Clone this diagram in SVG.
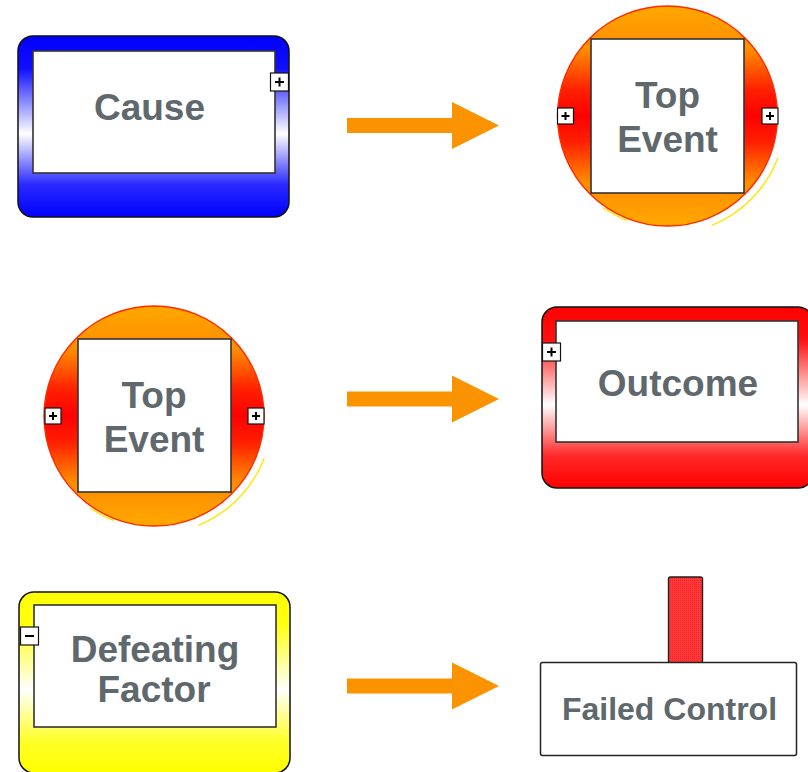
<svg xmlns="http://www.w3.org/2000/svg" width="808" height="772" viewBox="0 0 808 772">
  <defs>
    <linearGradient id="gBlue" x1="0" y1="0" x2="0" y2="1">
      <stop offset="0" stop-color="#0000ff"/>
      <stop offset="0.18" stop-color="#1010ff"/>
      <stop offset="0.54" stop-color="#ffffff"/>
      <stop offset="0.82" stop-color="#2a2aff"/>
      <stop offset="1" stop-color="#0000ff"/>
    </linearGradient>
    <linearGradient id="gRed" x1="0" y1="0" x2="0" y2="1">
      <stop offset="0" stop-color="#ff0000"/>
      <stop offset="0.18" stop-color="#ff1010"/>
      <stop offset="0.54" stop-color="#ffffff"/>
      <stop offset="0.82" stop-color="#ff2a2a"/>
      <stop offset="1" stop-color="#ff0000"/>
    </linearGradient>
    <linearGradient id="gYellow" x1="0" y1="0" x2="0" y2="1">
      <stop offset="0" stop-color="#ffff00"/>
      <stop offset="0.18" stop-color="#ffff10"/>
      <stop offset="0.54" stop-color="#ffffff"/>
      <stop offset="0.82" stop-color="#ffff2a"/>
      <stop offset="1" stop-color="#ffff00"/>
    </linearGradient>
    <linearGradient id="gEvent" x1="0" y1="0" x2="0" y2="1">
      <stop offset="0" stop-color="#ffa800"/>
      <stop offset="0.2" stop-color="#ff8c00"/>
      <stop offset="0.38" stop-color="#ff2000"/>
      <stop offset="0.5" stop-color="#ff0000"/>
      <stop offset="0.62" stop-color="#ff2000"/>
      <stop offset="0.8" stop-color="#ff8c00"/>
      <stop offset="1" stop-color="#ffa800"/>
    </linearGradient>
    <pattern id="pDots" width="2" height="2" patternUnits="userSpaceOnUse">
      <rect width="2" height="2" fill="#ff3a3a"/>
      <rect width="1" height="1" fill="#ff2020"/>
    </pattern>
    <polygon id="bigArrow" points="347,-7.5 452,-7.5 452,-23.5 499,0 452,23.5 452,7.5 347,7.5"/>
  </defs>
  <style>
    .outer { stroke: #111; stroke-width: 1.5; }
    .inner { fill: #ffffff; stroke: #333; stroke-width: 1.6; }
    .lbl { font-family: "Liberation Sans", Arial, sans-serif; font-weight: bold; fill: #5e686d; text-anchor: middle; }
    .btn { fill: #ffffff; stroke: #111; stroke-width: 1.2; }
    .sign { stroke: #000; stroke-width: 2; }
    .ring { fill: url(#gEvent); stroke: #ff2a00; stroke-width: 1.4; }
    .glow { fill: none; stroke: #ffe600; stroke-width: 1.4; }
    .arrow { fill: #fb9300; }
  </style>

  <!-- Cause -->
  <g id="cause">
    <rect class="outer" x="18" y="36" width="271" height="181" rx="15" fill="url(#gBlue)"/>
    <rect class="inner" x="33" y="51" width="242" height="122"/>
    <text class="lbl" x="149.5" y="120" font-size="37">Cause</text>
    <rect class="btn" x="270.5" y="73" width="18" height="18"/>
    <path class="sign" d="M275 82h9M279.5 77.5v9"/>
  </g>

  <!-- Top Event (top right) -->
  <g id="top-event-1" transform="translate(667.5 116)">
    <path class="glow" d="M110.2 42.3A118 118 0 0 1 44.2 109.4"/>
    <path class="glow" d="M-64.2 91.7A112 112 0 0 0 -40.1 104.6"/>
    <circle class="ring" cx="0" cy="0" r="110"/>
    <rect class="inner" x="-76.5" y="-77" width="153" height="154"/>
    <text class="lbl" x="0" y="-8" font-size="37">Top</text>
    <text class="lbl" x="0" y="36" font-size="37">Event</text>
    <rect class="btn" x="-110" y="-8" width="16" height="16"/>
    <path class="sign" d="M-106 0h8M-102 -4v8"/>
    <rect class="btn" x="94.5" y="-8" width="16" height="16"/>
    <path class="sign" d="M98.5 0h8M102.5 -4v8"/>
  </g>

  <!-- Top Event (middle left) -->
  <g id="top-event-2" transform="translate(154 416)">
    <path class="glow" d="M110.2 42.3A118 118 0 0 1 44.2 109.4"/>
    <path class="glow" d="M-64.2 91.7A112 112 0 0 0 -40.1 104.6"/>
    <circle class="ring" cx="0" cy="0" r="110"/>
    <rect class="inner" x="-76" y="-77" width="153" height="153"/>
    <text class="lbl" x="0" y="-8" font-size="37">Top</text>
    <text class="lbl" x="0" y="36" font-size="37">Event</text>
    <rect class="btn" x="-109" y="-8" width="16" height="16"/>
    <path class="sign" d="M-105 0h8M-101 -4v8"/>
    <rect class="btn" x="94" y="-8" width="16" height="16"/>
    <path class="sign" d="M98 0h8M102 -4v8"/>
  </g>

  <!-- Outcome -->
  <g id="outcome">
    <rect class="outer" x="542" y="307" width="271" height="181" rx="15" fill="url(#gRed)"/>
    <rect class="inner" x="556" y="321" width="242" height="121"/>
    <text class="lbl" x="678" y="396" font-size="37">Outcome</text>
    <rect class="btn" x="542.5" y="343" width="18" height="18"/>
    <path class="sign" d="M547 352h9M551.5 347.5v9"/>
  </g>

  <!-- Defeating Factor -->
  <g id="defeating-factor">
    <rect class="outer" x="19" y="592" width="271" height="181" rx="15" fill="url(#gYellow)"/>
    <rect class="inner" x="34" y="605" width="242" height="122"/>
    <text class="lbl" x="155" y="662" font-size="37">Defeating</text>
    <text class="lbl" x="154" y="702" font-size="37">Factor</text>
    <rect class="btn" x="20.5" y="627" width="18" height="18"/>
    <path class="sign" d="M25 636h9"/>
  </g>

  <!-- Failed Control -->
  <g id="failed-control">
    <rect x="668.5" y="577" width="34" height="86" rx="2" fill="url(#pDots)" stroke="#222" stroke-width="1.4"/>
    <rect x="540.5" y="662.5" width="256" height="93" rx="2" fill="#ffffff" stroke="#222" stroke-width="1.5"/>
    <text class="lbl" x="669.5" y="720" font-size="32">Failed Control</text>
  </g>

  <!-- Connectors -->
  <g id="connectors">
    <use href="#bigArrow" class="arrow" transform="translate(0 125.5)"/>
    <use href="#bigArrow" class="arrow" transform="translate(0 399)"/>
    <use href="#bigArrow" class="arrow" transform="translate(0 686)"/>
  </g>
</svg>
